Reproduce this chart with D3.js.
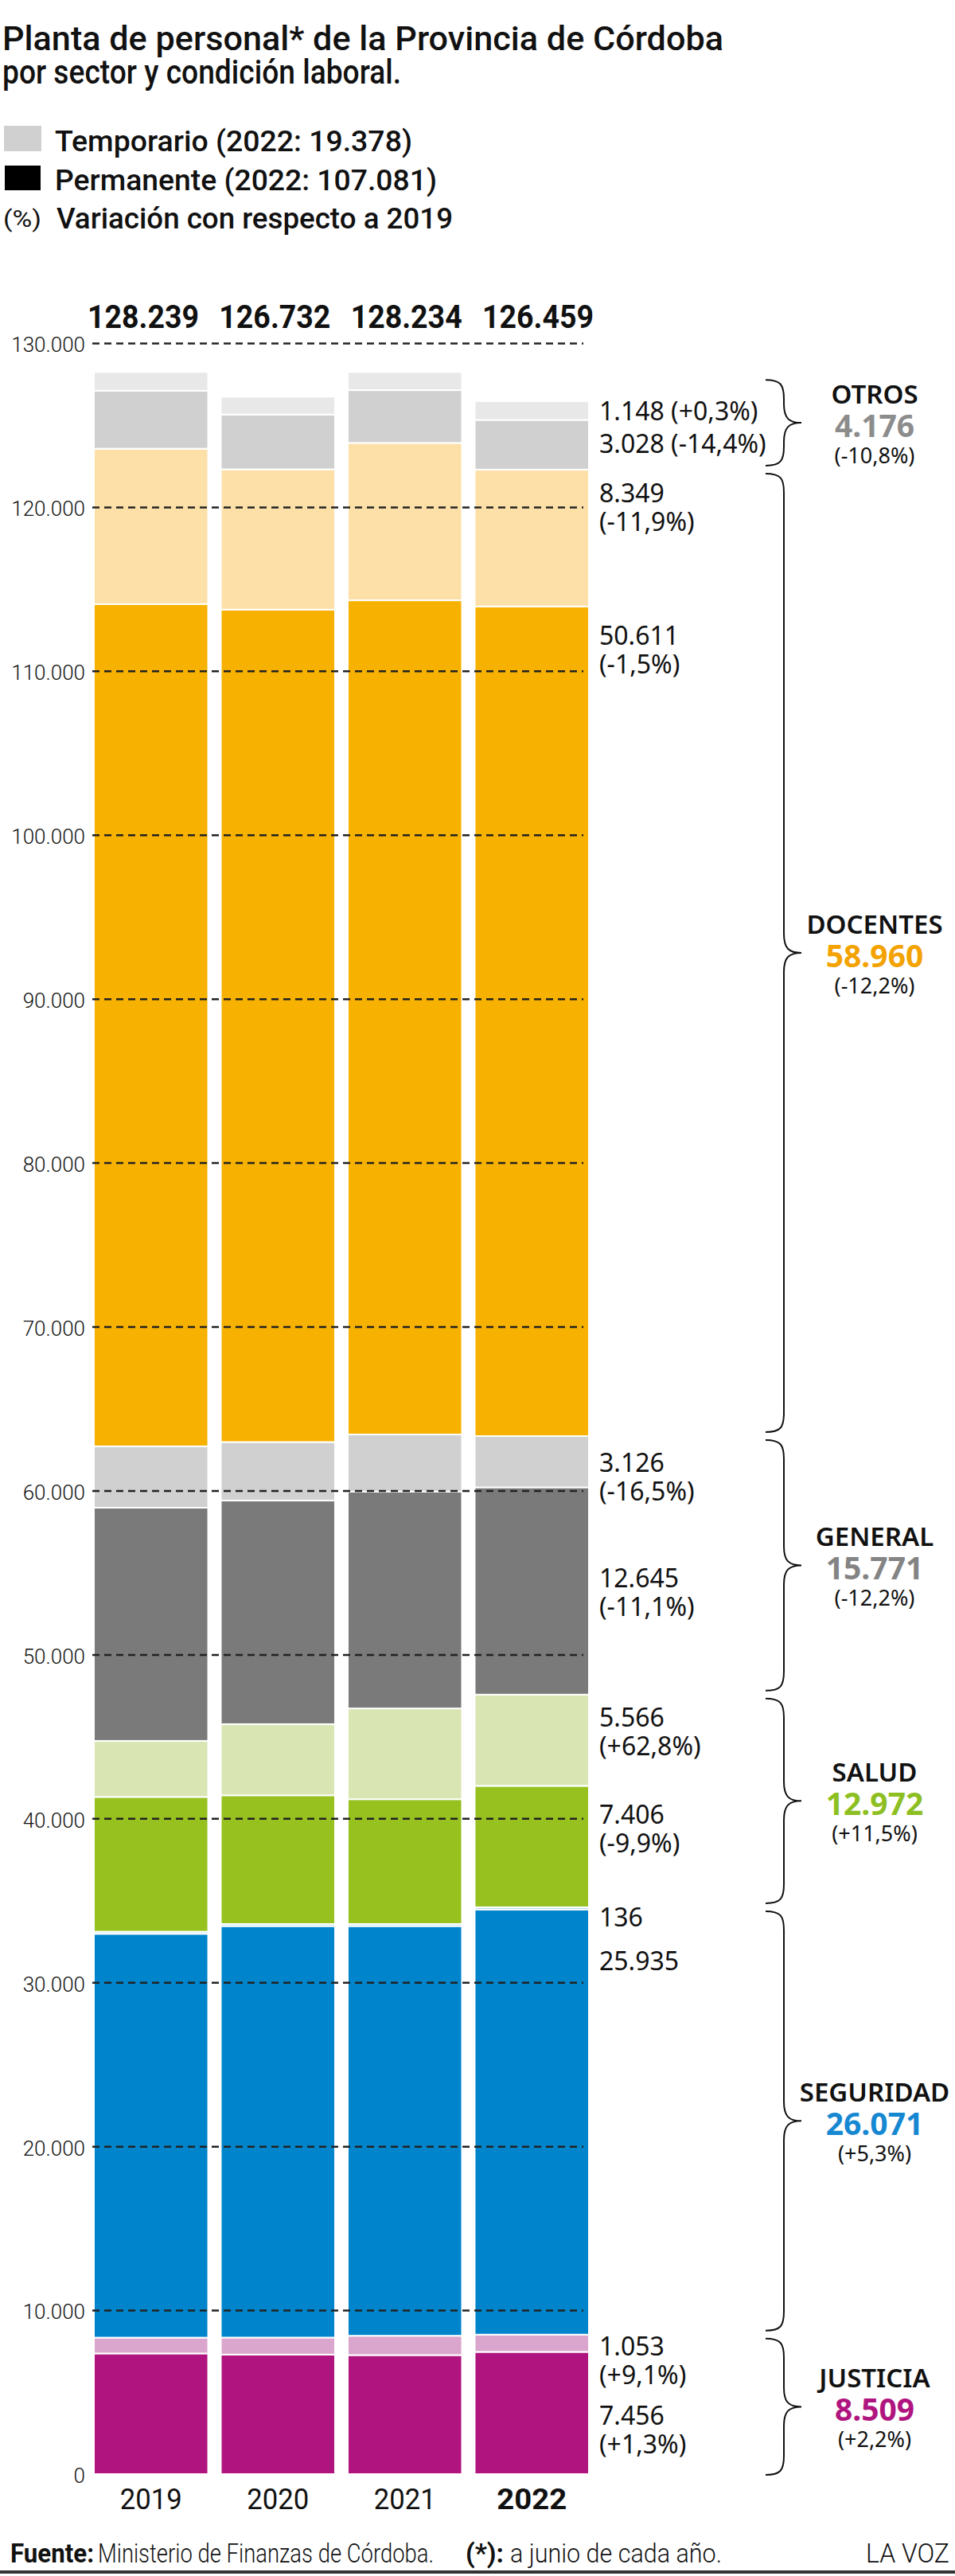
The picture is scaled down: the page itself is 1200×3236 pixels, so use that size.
<!DOCTYPE html>
<html>
<head>
<meta charset="utf-8">
<script src="https://cdn.jsdelivr.net/npm/d3@7"></script>
<style>
  body { margin: 0; background: #fff; }
  svg text { font-family: "Noto Sans", sans-serif; fill: #111; }
  .cond { font-family: Roboto, sans-serif; }
</style>
</head>
<body>
<svg id="chart" width="1200" height="3236"></svg>
<script>
// ---- data ----
const years = ["2019", "2020", "2021", "2022"];

const justiciaPerm  = [7360, 7290, 7260, 7456];
const justiciaTemp  = [965, 1040, 1180, 1053];
const seguridadPerm = [24636, 25100, 24990, 25935];
const seguridadTemp = [130, 130, 130, 136];
const saludPerm     = [8220, 7850, 7610, 7406];
const saludTemp     = [3419, 4340, 5540, 5566];
const generalPerm   = [14224, 13640, 13230, 12645];
const generalTemp   = [3744, 3570, 3480, 3126];
const docentesPerm  = [51382, 50780, 50890, 50611];
const docentesTemp  = [9477, 8560, 9600, 8349];
const otrosPerm     = [3537, 3340, 3220, 3028];
const otrosTemp     = [1145, 1092, 1104, 1148];

// variation vs 2019, bottom to top, same order as the stack keys
const segmentPct = ["+1,3%", "+9,1%", "", "", "-9,9%", "+62,8%", "-11,1%", "-16,5%", "-1,5%", "-11,9%", "-14,4%", "+0,3%"];

const sectors   = ["JUSTICIA", "SEGURIDAD", "SALUD", "GENERAL", "DOCENTES", "OTROS"];
const sectorPct = ["+2,2%", "+5,3%", "+11,5%", "-12,2%", "-12,2%", "-10,8%"];

const tickValues = [0, 10000, 20000, 30000, 40000, 50000, 60000, 70000, 80000, 90000, 100000, 110000, 120000, 130000];

// ---- build table ----
const series = {justiciaPerm, justiciaTemp, seguridadPerm, seguridadTemp, saludPerm, saludTemp,
                generalPerm, generalTemp, docentesPerm, docentesTemp, otrosPerm, otrosTemp};
const keys = Object.keys(series);
const table = years.map((yr, i) => {
    let row = {year: yr};
    keys.forEach(k => row[k] = series[k][i]);
    return row;
});
const stacked = d3.stack().keys(keys)(table);
const totals = table.map(r => d3.sum(keys, k => r[k]));

const colors = {
    justiciaPerm: "#b0157f", justiciaTemp: "#dba6cd",
    seguridadPerm: "#0084cb", seguridadTemp: "#9fd0ee",
    saludPerm: "#96c11f", saludTemp: "#d9e6b3",
    generalPerm: "#7a7a7a", generalTemp: "#d0d0d0",
    docentesPerm: "#f7b100", docentesTemp: "#fde0a8",
    otrosPerm: "#d0d0d0", otrosTemp: "#e8e8e8"
};
const sectorColors = ["#b0157f", "#1688d2", "#8dbf22", "#848484", "#f3a200", "#8c8c8c"];

const fmt = d3.formatLocale({decimal: ",", thousands: ".", grouping: [3], currency: ["$", ""]}).format(",");

function fit(sel, w) {
    sel.attr("textLength", w).attr("lengthAdjust", "spacingAndGlyphs");
}

const svg = d3.select("#chart");

// ---- title & legend ----
svg.append("text").attr("class", "cond").attr("x", 3).attr("y", 63)
    .style("font-size", "42px").style("font-weight", 500)
    .text("Planta de personal* de la Provincia de Córdoba").call(fit, 906);
svg.append("text").attr("class", "cond").attr("x", 3).attr("y", 105)
    .style("font-size", "42px").style("font-weight", 500)
    .text("por sector y condición laboral.").call(fit, 501);

svg.append("rect").attr("x", 5).attr("y", 158).attr("width", 47).attr("height", 32).attr("fill", "#d0d0d0");
svg.append("text").attr("class", "cond").attr("x", 69).attr("y", 190)
    .style("font-size", "37px").style("font-weight", 500)
    .text("Temporario (2022: " + fmt(d3.sum(keys.filter(k => k.endsWith("Temp")), k => series[k][3])) + ")").call(fit, 449);
svg.append("rect").attr("x", 6).attr("y", 208).attr("width", 45).attr("height", 31).attr("fill", "#000");
svg.append("text").attr("class", "cond").attr("x", 69).attr("y", 239)
    .style("font-size", "37px").style("font-weight", 500)
    .text("Permanente (2022: " + fmt(d3.sum(keys.filter(k => k.endsWith("Perm")), k => series[k][3])) + ")").call(fit, 480);
svg.append("text").attr("class", "cond").attr("x", 4).attr("y", 285)
    .style("font-size", "29px").text("(%)").call(fit, 48);
svg.append("text").attr("class", "cond").attr("x", 71).attr("y", 287)
    .style("font-size", "37px").style("font-weight", 500)
    .text("Variación con respecto a 2019").call(fit, 498);

// ---- scales ----
const x = d3.scaleBand().domain(years).range([118, 740]).paddingInner(0.1).paddingOuter(0);
const y = d3.scaleLinear().domain([0, 130000]).range([3108, 431]);
const xTot = d3.scalePoint().domain(years).range([180, 676]);

// ---- bars ----
let layers = svg.append("g").selectAll("g").data(stacked).join("g")
    .attr("fill", d => colors[d.key]);
layers.selectAll("rect").data(d => d).join("rect")
    .attr("x", d => x(d.data.year))
    .attr("width", x.bandwidth())
    .attr("y", d => y(d[1]))
    .attr("height", d => y(d[0]) - y(d[1]))
    .attr("stroke", "#fff").attr("stroke-width", 2);

// ---- gridlines + y labels (over the bars) ----
let yAxis = d3.axisLeft(y).tickValues(tickValues).tickFormat(fmt)
    .tickSize(-(733 - 116)).tickPadding(9);
let ya = svg.append("g").attr("transform", "translate(116,0)").call(yAxis);
ya.select(".domain").remove();
ya.selectAll(".tick line").attr("stroke", "#222").attr("stroke-width", 2.5)
    .attr("stroke-dasharray", "9,6")
    .filter(d => d === 0).remove();
ya.selectAll(".tick text").attr("class", "cond").attr("dy", "0.42em")
    .style("font-size", "26px").style("font-weight", 300).attr("fill", "#222");

// ---- totals on top ----
svg.append("g").selectAll("text").data(years).join("text")
    .attr("class", "cond").attr("x", d => xTot(d)).attr("y", 412)
    .attr("text-anchor", "middle").style("font-size", "40px").style("font-weight", 700)
    .text((d, i) => fmt(totals[i])).call(fit, 140);

// ---- year labels ----
svg.append("g").selectAll("text").data(years).join("text")
    .attr("class", "cond").attr("x", d => x(d) + x.bandwidth() / 2).attr("y", 3152)
    .attr("text-anchor", "middle").style("font-size", "37px")
    .style("font-weight", d => d === "2022" ? 700 : 400)
    .text(d => d)
    .each(function(d) { d3.select(this).call(fit, d === "2022" ? 88 : 78); });

// ---- segment labels for 2022 ----
// first baseline offset from the top of each 2022 segment
const labelDy = [92, 26.5, 76, 24, 47.6, 40, 125.6, 45, 47.7, 41, 41, 23.6];
const labX = 753;
stacked.forEach((s, i) => {
    let top = y(s[3][1]);
    let yy = top + labelDy[i];
    let val = fmt(s[3].data[s.key]);
    let pct = segmentPct[i];
    let t = svg.append("text").attr("x", labX).attr("y", yy).style("font-size", "32px");
    if (s.key.startsWith("otros")) {
        t.text(val + " (" + pct + ")");
    } else {
        t.text(val);
        if (pct) {
            svg.append("text").attr("x", labX).attr("y", yy + 36).style("font-size", "32px")
                .text("(" + pct + ")");
        }
    }
});

// ---- braces + sector labels ----
function brace(y0, y1) {
    const xe = 962, xl = 985, xt = 1007, ym = (y0 + y1) / 2, r = 24;
    return `M${xe},${y0} C${xl - 4},${y0} ${xl},${y0 + 6} ${xl},${y0 + r} ` +
        `L${xl},${ym - r} C${xl},${ym - 6} ${xl + 6},${ym} ${xt},${ym} ` +
        `C${xl + 6},${ym} ${xl},${ym + 6} ${xl},${ym + r} ` +
        `L${xl},${y1 - r} C${xl},${y1 - 6} ${xl - 4},${y1} ${xe},${y1}`;
}
sectors.forEach((name, i) => {
    let lo = stacked[i * 2][3][0];
    let hi = stacked[i * 2 + 1][3][1];
    let y0 = i === sectors.length - 1 ? y(d3.max(totals)) + 10 : y(hi) + 5;
    let y1 = y(lo) - 5;
    if (i === 0) y1 = y(lo) + 1;
    let ym = (y0 + y1) / 2;
    svg.append("path").attr("d", brace(y0, y1))
        .attr("fill", "none").attr("stroke", "#111").attr("stroke-width", 2);
    let total = stacked[i * 2][3].data[keys[i * 2]] + stacked[i * 2][3].data[keys[i * 2 + 1]];
    svg.append("text").attr("x", 1099).attr("y", ym - 24).attr("text-anchor", "middle")
        .style("font-size", "33px").style("font-weight", 600).text(name);
    svg.append("text").attr("x", 1099).attr("y", ym + 18).attr("text-anchor", "middle")
        .style("font-size", "39px").style("font-weight", 700).style("fill", sectorColors[i])
        .text(fmt(total));
    svg.append("text").attr("x", 1099).attr("y", ym + 51).attr("text-anchor", "middle")
        .style("font-size", "27px").text("(" + sectorPct[i] + ")");
});

// ---- footer ----
const fy = 3219;
svg.append("text").attr("class", "cond").attr("x", 13).attr("y", fy)
    .style("font-size", "34px").style("font-weight", 700).text("Fuente:").call(fit, 105);
svg.append("text").attr("class", "cond").attr("x", 123).attr("y", fy)
    .style("font-size", "34px").style("font-weight", 300).text("Ministerio de Finanzas de Córdoba.").call(fit, 422);
svg.append("text").attr("class", "cond").attr("x", 585).attr("y", fy)
    .style("font-size", "34px").style("font-weight", 700).text("(*):").call(fit, 48);
svg.append("text").attr("class", "cond").attr("x", 641).attr("y", fy)
    .style("font-size", "34px").style("font-weight", 300).text("a junio de cada año.").call(fit, 266);
svg.append("text").attr("class", "cond").attr("x", 1193).attr("y", fy).attr("text-anchor", "end")
    .style("font-size", "34px").style("font-weight", 300).text("LA VOZ").call(fit, 105);
svg.append("rect").attr("x", 0).attr("y", 3229).attr("width", 1200).attr("height", 4).attr("fill", "#333");
</script>
</body>
</html>
